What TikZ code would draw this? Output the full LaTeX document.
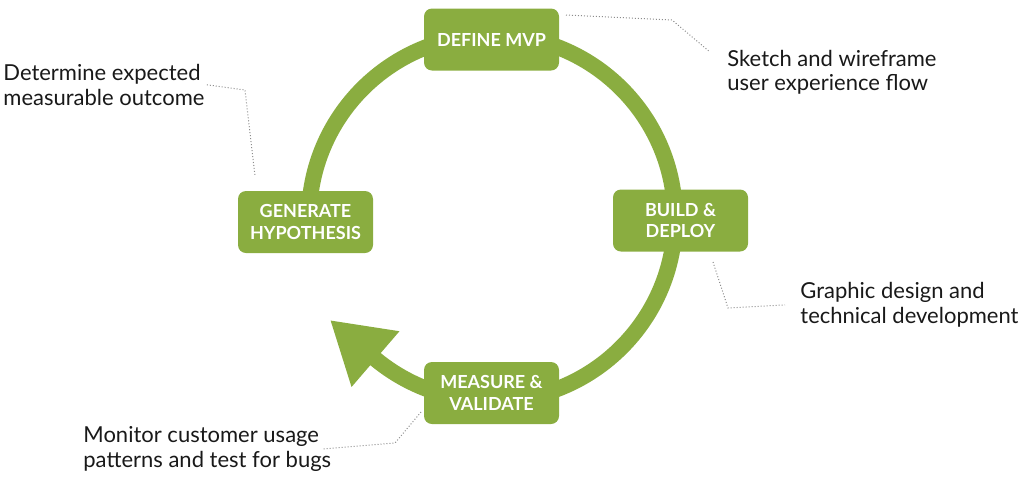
\documentclass[tikz,border=0pt]{standalone}
\usepackage{fontspec}
\setmainfont{Lato}
\usetikzlibrary{arrows.meta}
\definecolor{leaf}{RGB}{138,173,64}
\begin{document}
\begin{tikzpicture}[x=0.5pt, y=-0.5pt,
  stage/.style={fill=leaf, rounded corners=4pt,
                minimum width=67.5pt, minimum height=31pt,
                inner sep=0pt, text=white, align=center,
                font=\fontsize{9}{10.75}\selectfont\bfseries},
  note/.style={align=left, inner sep=0pt, text=black!90,
               font=\fontsize{11}{12.2}\selectfont},
  ring/.style={draw=leaf, line width=8pt,
               -{Triangle[length=30pt, width=34.5pt]}},
  lead/.style={densely dotted, draw=black!45, line width=0.5pt},
]
% page in pixel units (1024 x 499)
\useasboundingbox (0,0) rectangle (1024,499);
% Cycle ring, ends in the big arrow head
\coordinate (tip) at (330,320);
\draw[ring] (309,218) arc[start angle=180, end angle=489.5, radius=183] -- (tip);
% Stages
\node[stage] (define)   at (491.5,39.5) {DEFINE MVP};
\node[stage] (build)    at (680.5,220.5) {BUILD \&\\DEPLOY};
\node[stage] (measure)  at (491.5,393) {MEASURE \&\\VALIDATE};
\node[stage] (generate) at (305.5,222) {GENERATE\\HYPOTHESIS};
% Notes (base = last line)
\node[note, anchor=base west] (determine) at (3,105)
  {Determine expected\\measurable outcome};
\node[note, anchor=base west] (sketch) at (727,90.7)
  {Sketch and wireframe\\user experience flow};
\node[note, anchor=base west] (graphic) at (800,323.3)
  {Graphic design and\\technical development};
\node[note, anchor=base west] (monitor) at (83,467.3)
  {Monitor customer usage\\patterns and test for bugs};
% Leader lines
\coordinate (d1) at (245,90);
\coordinate (d2) at (255,176);
\draw[lead] ([xshift=1pt]determine.east) -- (d1) -- (d2);
\coordinate (s0) at (566,15);
\coordinate (s1) at (672,20);
\coordinate (s2) at (710,52);
\draw[lead] (s0) -- (s1) -- (s2);
\coordinate (b0) at (713,262);
\coordinate (b1) at (728,308);
\draw[lead] (b0) -- (b1) -- ([xshift=-7.5pt]graphic.west);
\coordinate (m0) at (421,412);
\coordinate (m1) at (395,443);
\coordinate (m2) at (322,449);
\draw[lead] (m0) -- (m1) -- (m2);
\end{tikzpicture}
\end{document}
